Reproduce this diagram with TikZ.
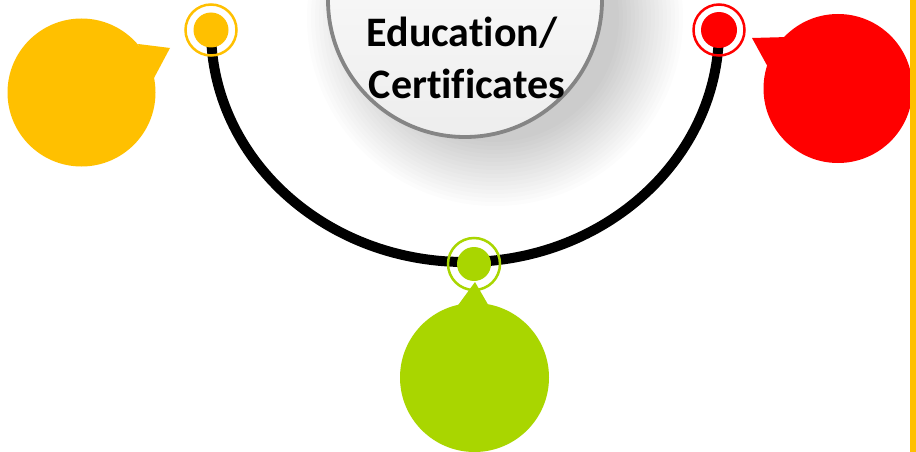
\documentclass[tikz,border=0pt]{standalone}
\usepackage{fontspec}
\setmainfont{Carlito}[RawFeature=-liga]
\definecolor{cyel}{HTML}{FFC000}
\definecolor{cred}{HTML}{FF0000}
\definecolor{cgrn}{HTML}{A9D600}
\tikzset{
  dotfill/.style={fill=#1},
  dotring/.style={draw=#1, line width=2.5pt},
  bubble/.style={fill=#1},
  shadowlayer/.style={fill=black, fill opacity=0.013},
  titletext/.style={font=\bfseries\fontsize{42}{52}\selectfont, inner sep=0pt, anchor=base},
}
\begin{document}
\begin{tikzpicture}[x=1pt,y=-1pt]
\useasboundingbox (0,0) rectangle (916,452);
\fill[white] (0,0) rectangle (916,452);
% shadow of central disc
\foreach \r in {188,184,...,124}{
  \fill[shadowlayer] (495,18) circle[radius=\r pt];
}
% central disc
\begin{scope}
\clip (0,0) rectangle (916,452);
\shade[top color=white, bottom color=black!7, draw=black!48, line width=3.8pt] (465,0) circle[radius=137pt];
\end{scope}
\node[titletext] (t1) at (462,47) {Education/};
\node[titletext] (t2) at (467,99) {Certificates};
% arc
\coordinate (ya) at (211,30);
\coordinate (ra) at (719,30);
\draw[line width=10pt, black] (ya) arc[start angle=180, end angle=360, x radius=254pt, y radius=232pt];
% yellow
\node[circle, dotfill=cyel, minimum size=35pt, inner sep=0pt] (yd) at (211,30) {};
\node[circle, dotring=cyel, minimum size=51pt, inner sep=0pt] (yr) at (211,30) {};
\node[circle, bubble=cyel, minimum size=148pt, inner sep=0pt] (yb) at (81.5,92.5) {};
\fill[cyel] (138,44) -- (170,48) -- (154,78) -- cycle;
% red
\node[circle, dotfill=cred, minimum size=36pt, inner sep=0pt] (rd) at (719,30) {};
\node[circle, dotring=cred, minimum size=51pt, inner sep=0pt] (rr) at (719,30) {};
\node[circle, bubble=cred, minimum size=149pt, inner sep=0pt] (rb) at (838,88.5) {};
\fill[cred] (788,37) -- (752,38) -- (769,69) -- cycle;
% green
\node[circle, dotfill=cgrn, minimum size=34pt, inner sep=0pt] (gd) at (474,264) {};
\node[circle, dotring=cgrn, minimum size=52pt, inner sep=0pt] (gr) at (474,264) {};
\node[circle, bubble=cgrn, minimum size=149pt, inner sep=0pt] (gb) at (474.5,377.5) {};
\fill[cgrn] (475,282) -- (456,308) -- (490,308) -- cycle;
% right bar
\fill[cyel] (910,0) rectangle (916,452);
\end{tikzpicture}
\end{document}
